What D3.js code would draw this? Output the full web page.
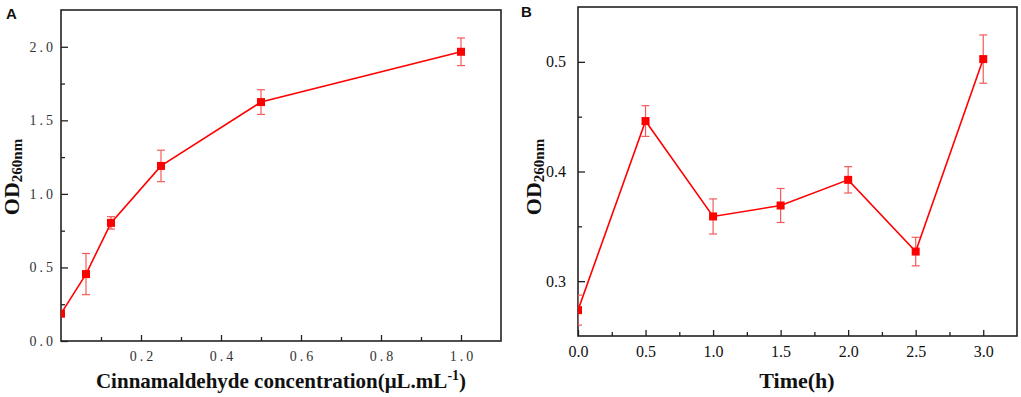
<!DOCTYPE html>
<html>
<head>
<meta charset="utf-8">
<script src="https://cdn.jsdelivr.net/npm/d3@7"></script>
<style>
  body { margin: 0; background: #fff; }
  svg { display: block; }
</style>
</head>
<body>
<div id="chart"></div>
<script>
// Panel A: OD260 vs cinnamaldehyde concentration
const concA = [0, 0.0625, 0.125, 0.25, 0.5, 1.0];
const odA = [0.186, 0.455, 0.803, 1.19, 1.624, 1.966];
const errA = [0.02, 0.14, 0.042, 0.107, 0.084, 0.094];
const xTicksA = [0.2, 0.4, 0.6, 0.8, 1.0];
const yTicksA = [0, 0.5, 1.0, 1.5, 2.0];

// Panel B: OD260 vs time
const timeB = [0, 0.5, 1.0, 1.5, 2.0, 2.5, 3.0];
const odB = [0.2736, 0.446, 0.359, 0.369, 0.3924, 0.327, 0.5025];
const errB = [0.0137, 0.014, 0.016, 0.0155, 0.012, 0.013, 0.022];
const xTicksB = [0, 0.5, 1.0, 1.5, 2.0, 2.5, 3.0];
const yTicksB = [0.3, 0.4, 0.5];

const width = 1021;
const height = 397;

const svg = d3.select('#chart')
    .append('svg')
    .attr('width', width)
    .attr('height', height);

function drawPanel(cfg) {
    const {id, box, xDomain, yDomain, xs, ys, errs} = cfg;
    const g = svg.append('g');

    const xScale = d3.scaleLinear().domain(xDomain).range([box.left, box.right]);
    const yScale = d3.scaleLinear().domain(yDomain).range([box.bottom, box.top]);

    // minor ticks
    g.append('g')
        .attr('transform', `translate(0,${box.bottom})`)
        .call(d3.axisBottom(xScale).tickValues(cfg.xMinor).tickSize(-4).tickFormat(''))
        .call(s => s.select('.domain').remove())
        .call(s => s.selectAll('line').attr('stroke', '#222').attr('stroke-width', 1.3));
    g.append('g')
        .attr('transform', `translate(${box.left},0)`)
        .call(d3.axisLeft(yScale).tickValues(cfg.yMinor).tickSize(-4).tickFormat(''))
        .call(s => s.select('.domain').remove())
        .call(s => s.selectAll('line').attr('stroke', '#222').attr('stroke-width', 1.3));

    // major ticks with labels
    const xAxis = g.append('g')
        .attr('transform', `translate(0,${box.bottom})`)
        .call(d3.axisBottom(xScale).tickValues(cfg.xTicks)
            .tickSizeInner(-6).tickSizeOuter(0).tickPadding(10)
            .tickFormat(d3.format('.1f')));
    const yAxis = g.append('g')
        .attr('transform', `translate(${box.left},0)`)
        .call(d3.axisLeft(yScale).tickValues(cfg.yTicks)
            .tickSizeInner(-7).tickSizeOuter(0).tickPadding(cfg.yPad)
            .tickFormat(d3.format('.1f')));
    [xAxis, yAxis].forEach(a => {
        a.select('.domain').remove();
        a.selectAll('line').attr('stroke', '#222').attr('stroke-width', 1.3);
        a.selectAll('text')
            .attr('font-family', 'Liberation Serif, Times New Roman, serif')
            .attr('font-size', cfg.tickFont)
            .attr('letter-spacing', cfg.tickSpacing)
            .attr('fill', cfg.tickColor);
    });
    // letter-spacing adds a trailing gap; nudge centred labels back
    xAxis.selectAll('text').attr('dx', cfg.tickSpacing / 2);

    // frame
    g.append('rect')
        .attr('x', box.left)
        .attr('y', box.top)
        .attr('width', box.right - box.left)
        .attr('height', box.bottom - box.top)
        .attr('fill', 'none')
        .attr('stroke', '#222')
        .attr('stroke-width', 1.6);

    // clip for data
    svg.append('clipPath')
        .attr('id', `clip-${id}`)
      .append('rect')
        .attr('x', box.left)
        .attr('y', box.top)
        .attr('width', box.right - box.left)
        .attr('height', box.bottom - box.top);

    const data = xs.map((x, i) => ({x, y: ys[i], e: errs[i]}));
    const plot = g.append('g').attr('clip-path', `url(#clip-${id})`);

    // error bars
    const eb = plot.selectAll('.err')
        .data(data)
        .enter()
      .append('g')
        .attr('stroke', '#f45a5a')
        .attr('stroke-width', 1.2);
    eb.append('line')
        .attr('x1', d => xScale(d.x)).attr('x2', d => xScale(d.x))
        .attr('y1', d => yScale(d.y - d.e)).attr('y2', d => yScale(d.y + d.e));
    eb.append('line')
        .attr('x1', d => xScale(d.x) - 4).attr('x2', d => xScale(d.x) + 4)
        .attr('y1', d => yScale(d.y + d.e)).attr('y2', d => yScale(d.y + d.e));
    eb.append('line')
        .attr('x1', d => xScale(d.x) - 4).attr('x2', d => xScale(d.x) + 4)
        .attr('y1', d => yScale(d.y - d.e)).attr('y2', d => yScale(d.y - d.e));

    // line
    plot.append('path')
        .datum(data)
        .attr('fill', 'none')
        .attr('stroke', '#ff0000')
        .attr('stroke-width', 1.6)
        .attr('d', d3.line().x(d => xScale(d.x)).y(d => yScale(d.y)));

    // markers
    plot.selectAll('.pt')
        .data(data)
        .enter()
      .append('rect')
        .attr('x', d => xScale(d.x) - 4)
        .attr('y', d => yScale(d.y) - 4)
        .attr('width', 8)
        .attr('height', 8)
        .attr('fill', '#ff0000');

    // y label OD260nm
    const yl = g.append('text')
        .attr('transform', `translate(${cfg.yLabel.x},${cfg.yLabel.y}) rotate(-90)`)
        .attr('text-anchor', 'middle')
        .attr('font-family', 'Liberation Serif, Times New Roman, serif')
        .attr('font-weight', 'bold')
        .attr('fill', '#111');
    yl.append('tspan').attr('font-size', cfg.yLabel.size).text('OD');
    yl.append('tspan').attr('font-size', cfg.yLabel.sub).attr('dy', 3).text('260nm');

    // panel letter
    g.append('text')
        .attr('x', cfg.letter.x)
        .attr('y', cfg.letter.y)
        .attr('font-family', 'Liberation Sans, Arial, sans-serif')
        .attr('font-weight', 'bold')
        .attr('font-size', 15)
        .attr('fill', '#111')
        .text(id);

    return g;
}

const gA = drawPanel({
    id: 'A',
    box: {left: 61, right: 501, top: 10, bottom: 341},
    xDomain: [0, 1.1], yDomain: [0, 2.25],
    xs: concA, ys: odA, errs: errA,
    xTicks: xTicksA, yTicks: yTicksA,
    xMinor: [0.1, 0.3, 0.5, 0.7, 0.9],
    yMinor: [0.25, 0.75, 1.25, 1.75],
    yPad: 5, tickFont: 14, tickSpacing: 3, tickColor: '#333',
    yLabel: {x: 19, y: 177, size: 22, sub: 15},
    letter: {x: 6, y: 19}
});

const gB = drawPanel({
    id: 'B',
    box: {left: 578, right: 1017, top: 7, bottom: 336},
    xDomain: [0, 3.25], yDomain: [0.25, 0.55],
    xs: timeB, ys: odB, errs: errB,
    xTicks: xTicksB, yTicks: yTicksB,
    xMinor: [0.25, 0.75, 1.25, 1.75, 2.25, 2.75],
    yMinor: [0.35, 0.45],
    yPad: 12, tickFont: 16, tickSpacing: 0, tickColor: '#111',
    yLabel: {x: 541, y: 177, size: 22, sub: 15},
    letter: {x: 521, y: 17}
});

// x-axis titles
const titleA = svg.append('text')
    .attr('x', 281)
    .attr('y', 388)
    .attr('text-anchor', 'middle')
    .attr('font-family', 'Liberation Serif, Times New Roman, serif')
    .attr('font-weight', 'bold')
    .attr('font-size', 21)
    .attr('fill', '#111');
titleA.append('tspan').text('Cinnamaldehyde concentration(μL.mL');
titleA.append('tspan').attr('font-size', 14).attr('dy', -8).text('-1');
titleA.append('tspan').attr('dy', 8).text(')');

svg.append('text')
    .attr('x', 797)
    .attr('y', 388)
    .attr('text-anchor', 'middle')
    .attr('font-family', 'Liberation Serif, Times New Roman, serif')
    .attr('font-weight', 'bold')
    .attr('font-size', 22)
    .attr('fill', '#111')
    .text('Time(h)');
</script>
</body>
</html>
